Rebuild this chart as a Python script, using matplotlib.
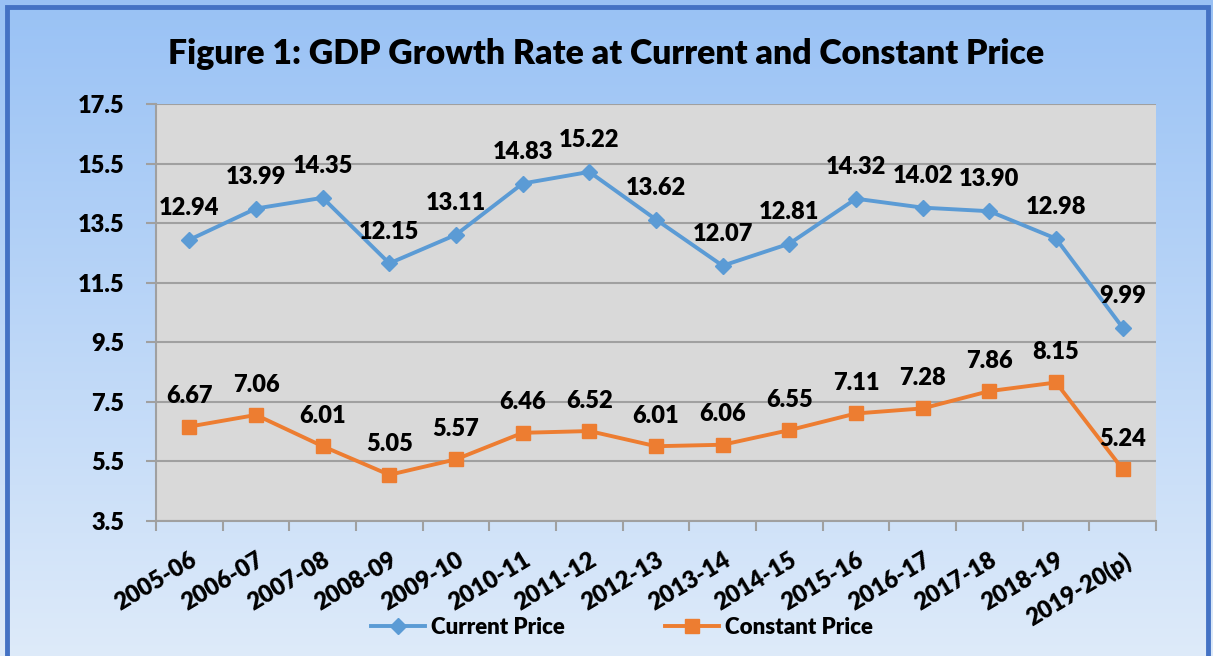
import numpy as np
import matplotlib.pyplot as plt
from matplotlib.patches import Rectangle

years = ['2005-06', '2006-07', '2007-08', '2008-09', '2009-10', '2010-11', '2011-12',
         '2012-13', '2013-14', '2014-15', '2015-16', '2016-17', '2017-18', '2018-19',
         '2019-20(p)']
current = [12.94, 13.99, 14.35, 12.15, 13.11, 14.83, 15.22, 13.62, 12.07, 12.81,
           14.32, 14.02, 13.90, 12.98, 9.99]
constant = [6.67, 7.06, 6.01, 5.05, 5.57, 6.46, 6.52, 6.01, 6.06, 6.55, 7.11, 7.28,
            7.86, 8.15, 5.24]
yticks = [3.5, 5.5, 7.5, 9.5, 11.5, 13.5, 15.5, 17.5]

plt.rcParams['font.family'] = ['Lato', 'DejaVu Sans']
W = 'heavy'

fig = plt.figure(figsize=(12.13, 6.56), dpi=100)

# gradient background
bg = fig.add_axes([0, 0, 1, 1], zorder=-10)
grad = np.linspace(0, 1, 256).reshape(-1, 1)
top = np.array([0.60, 0.76, 0.96])
bot = np.array([0.87, 0.92, 0.98])
img = top + (bot - top) * grad[:, :, None] * np.ones((1, 1, 3))
bg.imshow(img, aspect='auto', extent=[0, 1, 0, 1])
bg.set_axis_off()
fig.patches.append(Rectangle((0.006, -0.02), 0.99, 1.01, transform=fig.transFigure,
                             fill=False, edgecolor='#4472C4', linewidth=3.5))

ax = fig.add_axes([0.1286, 0.2058, 0.8244, 0.6357])
ax.set_facecolor('#D9D9D9')
x = np.arange(len(years))

ax.plot(x, current, color='#5B9BD5', lw=2.8, marker='D', ms=8, label='Current Price')
ax.plot(x, constant, color='#ED7D31', lw=2.8, marker='s', ms=10, label='Constant Price')

for xi, v in zip(x, current):
    ax.annotate(f'{v:.2f}', (xi, v), xytext=(0, 15), textcoords='offset points',
                ha='center', va='bottom', fontsize=17, fontweight=W)
for xi, v in zip(x, constant):
    ax.annotate(f'{v:.2f}', (xi, v), xytext=(0, 14), textcoords='offset points',
                ha='center', va='bottom', fontsize=17, fontweight=W)

ax.set_xlim(-0.5, len(years) - 0.5)
ax.set_ylim(3.5, 17.5)
ax.set_yticks(yticks)
ax.set_yticklabels([f'{t:.1f}' for t in yticks], fontsize=17, fontweight=W)
ax.set_xticks(x)
ax.set_xticklabels(years, rotation=31, ha='right', rotation_mode='anchor',
                   fontsize=17, fontweight=W)
ax.set_xticks(np.arange(-0.5, len(years), 1), minor=True)
ax.tick_params(axis='x', which='major', length=0, pad=20)
ax.tick_params(axis='x', which='minor', length=7, color='#A0A0A0', width=1.5)
ax.tick_params(axis='y', length=7, color='#A0A0A0', width=1.5, pad=16)
ax.grid(axis='y', color='#A0A0A0', lw=1.5)
ax.set_axisbelow(True)
for s in ['top', 'right']:
    ax.spines[s].set_visible(False)
for s in ['left', 'bottom']:
    ax.spines[s].set_color('#A0A0A0')
    ax.spines[s].set_linewidth(1.5)

fig.text(0.5, 0.918, 'Figure 1: GDP Growth Rate at Current and Constant Price',
         ha='center', va='center', fontsize=24.3, fontweight=W)

fig.legend(loc='center', bbox_to_anchor=(0.513, 0.044), ncol=2, frameon=False,
           prop={'size': 16, 'weight': W}, columnspacing=4.5, handlelength=2.4,
           handletextpad=0.3)

fig.savefig('out.png', dpi=100)
